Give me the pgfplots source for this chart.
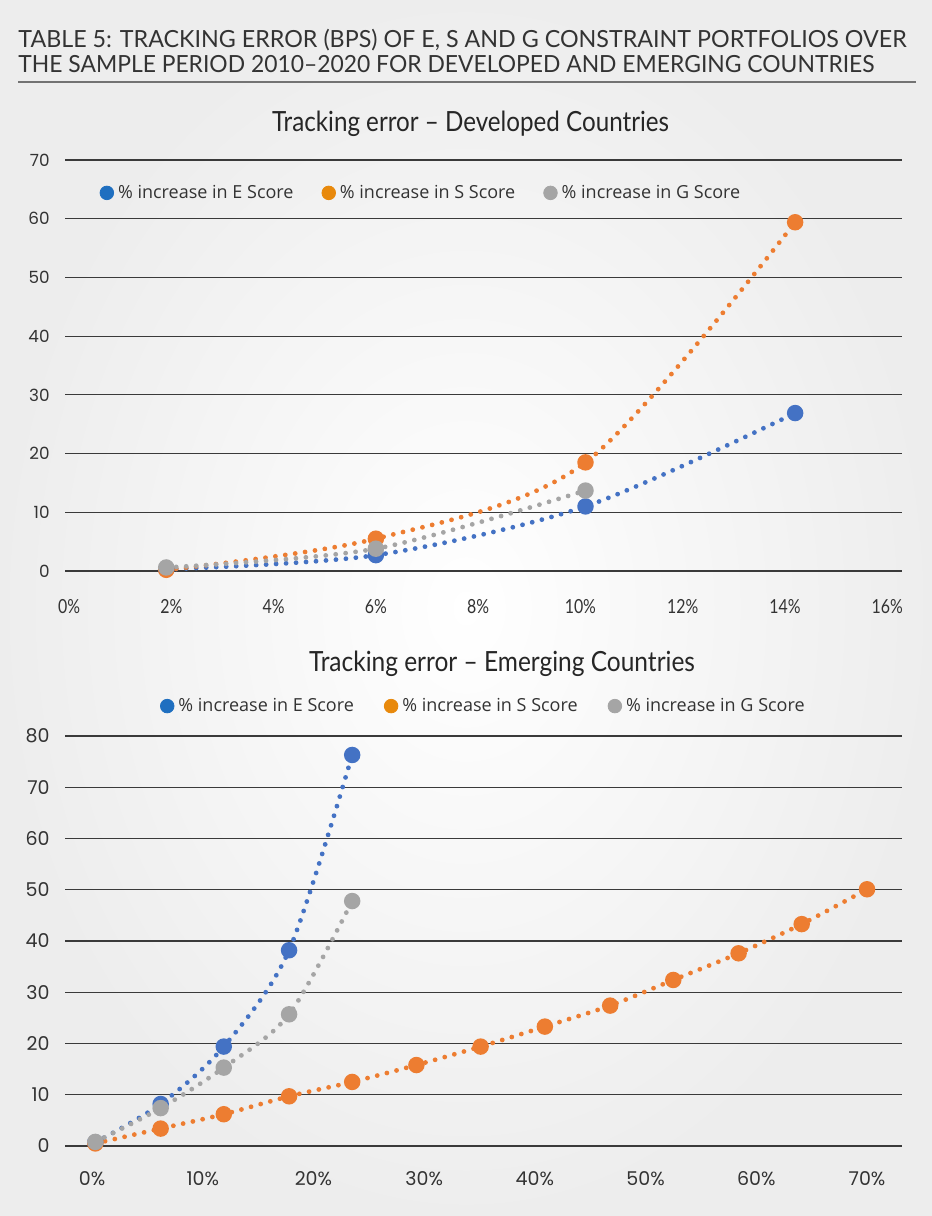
\documentclass[border=0pt]{standalone}
\usepackage{fontspec}
\usepackage{graphicx}
\usepackage{pgfplots}
\pgfplotsset{compat=1.18}
\setmainfont{Open Sans}
\newfontfamily\condfont[FakeStretch=0.82]{Lato}
\newfontfamily\tickfont{Poppins}
\definecolor{lineblue}{HTML}{4472C4}
\definecolor{lineorange}{HTML}{ED7D31}
\definecolor{linegray}{HTML}{A5A5A5}
\definecolor{legblue}{HTML}{1F6FC0}
\definecolor{legorange}{HTML}{E8890C}
\definecolor{leggray}{HTML}{A5A5A5}
\definecolor{txt}{HTML}{333333}
\definecolor{gridc}{HTML}{3A3A3A}

\pgfplotstableread{
x y
1.9 0.3
6.0 2.7
10.1 11.0
14.2 26.9
}\devE
\pgfplotstableread{
x y
1.9 0.2
6.0 5.5
10.1 18.5
14.2 59.4
}\devS
\pgfplotstableread{
x y
1.9 0.6
6.0 3.8
10.1 13.7
}\devG
\pgfplotstableread{
x y
0.3 0.7
6.2 8.2
11.9 19.4
17.8 38.2
23.5 76.3
}\emE
\pgfplotstableread{
x y
0.3 0.5
6.2 3.4
11.9 6.2
17.8 9.7
23.5 12.5
29.3 15.8
35.1 19.4
40.9 23.3
46.8 27.4
52.5 32.4
58.4 37.6
64.1 43.3
70.0 50.1
}\emS
\pgfplotstableread{
x y
0.3 0.8
6.2 7.4
11.9 15.3
17.8 25.7
23.5 47.8
}\emG

\pgfplotsset{
  dotline/.style={smooth, line width=2.4pt, line cap=round, dash pattern=on 0pt off 5pt,
    mark=*, mark size=2.9pt, mark options={solid, draw=none}},
  base/.style={
    scale only axis, anchor=south west, clip=false,
    axis line style={draw=none}, major tick length=0pt,
    ymajorgrids, grid style={gridc, line width=0.6pt},
    yticklabel style={inner sep=0pt, xshift=-7.5pt, anchor=east, text=txt},
    xticklabel style={inner sep=0pt, anchor=north, text=txt},
    legend image code/.code={\fill[##1] (0pt,0pt) circle (3.4pt);},
    legend cell align=left,
  },
}

\begin{document}
\begin{tikzpicture}
\shade[inner color=white, outer color=black!7] (0,0) rectangle (466pt,-608pt);
\useasboundingbox (0,0) rectangle (466pt,-608pt);
% main title
\node[anchor=base west, inner sep=0pt, text=txt] at (9pt,-23.5pt)
  {\resizebox{444pt}{\height}{\condfont\fontsize{11.8}{14}\selectfont TABLE 5: TRACKING ERROR (BPS) OF E, S AND G CONSTRAINT PORTFOLIOS OVER}};
\node[anchor=base west, inner sep=0pt, text=txt] at (9pt,-36.2pt)
  {\resizebox{428pt}{\height}{\condfont\fontsize{11.8}{14}\selectfont THE SAMPLE PERIOD 2010–2020 FOR DEVELOPED AND EMERGING COUNTRIES}};
\draw[black!55, line width=1pt] (9pt,-41pt) -- (458pt,-41pt);
% chart titles
\node[anchor=base, inner sep=0pt, text=black!85] at (235.3pt,-65.5pt)
  {\resizebox{198.5pt}{\height}{\condfont\fontsize{13.9}{16}\selectfont Tracking error – Developed Countries}};
\node[anchor=base, inner sep=0pt, text=black!85] at (251pt,-335.5pt)
  {\resizebox{193pt}{\height}{\condfont\fontsize{13.9}{16}\selectfont Tracking error – Emerging Countries}};

% Developed
\begin{axis}[base,
  at={(32.5pt,-285.5pt)}, width=418.5pt, height=205.5pt,
  xmin=-0.08, xmax=16.29, ymin=0, ymax=70,
  xtick={0,2,4,6,8,10,12,14,16},
  xticklabels={0\%,2\%,4\%,6\%,8\%,10\%,12\%,14\%,16\%},
  xticklabel style={font=\condfont\fontsize{9.7}{11}\selectfont, yshift=-14pt},
  ytick={0,10,20,30,40,50,60,70},
  yticklabels={0,10,20,30,40,50,60,70},
  yticklabel style={font=\tickfont\fontsize{8.4}{10}\selectfont},
  legend style={at={(0.4265,0.92)}, anchor=center, draw=none, fill=none,
    legend columns=3, font=\fontsize{9}{11}\selectfont\color{txt},
    /tikz/every even column/.append style={column sep=12pt}},
]
\addlegendimage{legblue}\addlegendentry{\% increase in E Score}
\addlegendimage{legorange}\addlegendentry{\% increase in S Score}
\addlegendimage{leggray}\addlegendentry{\% increase in G Score}
\addplot[dotline, color=lineblue, forget plot] table[x=x,y=y] {\devE};
\addplot[dotline, color=lineorange, forget plot] table[x=x,y=y] {\devS};
\addplot[dotline, color=linegray, forget plot] table[x=x,y=y] {\devG};
\end{axis}

% Emerging
\begin{axis}[base,
  at={(32.5pt,-573pt)}, width=418.5pt, height=205pt,
  xmin=-2.44, xmax=73.16, ymin=0, ymax=80,
  xtick={0,10,20,30,40,50,60,70},
  xticklabels={0\%,10\%,20\%,30\%,40\%,50\%,60\%,70\%},
  xticklabel style={font=\tickfont\fontsize{9.5}{11}\selectfont, yshift=-12.5pt},
  ytick={0,10,20,30,40,50,60,70,80},
  yticklabels={0,10,20,30,40,50,60,70,80},
  yticklabel style={font=\tickfont\fontsize{9.5}{11}\selectfont},
  legend style={at={(0.501,1.073)}, anchor=center, draw=none, fill=none,
    legend columns=3, font=\fontsize{9}{11}\selectfont\color{txt},
    /tikz/every even column/.append style={column sep=13pt}},
]
\addlegendimage{legblue}\addlegendentry{\% increase in E Score}
\addlegendimage{legorange}\addlegendentry{\% increase in S Score}
\addlegendimage{leggray}\addlegendentry{\% increase in G Score}
\addplot[dotline, color=lineblue, forget plot] table[x=x,y=y] {\emE};
\addplot[dotline, color=lineorange, forget plot] table[x=x,y=y] {\emS};
\addplot[dotline, color=linegray, forget plot] table[x=x,y=y] {\emG};
\end{axis}
\end{tikzpicture}
\end{document}
